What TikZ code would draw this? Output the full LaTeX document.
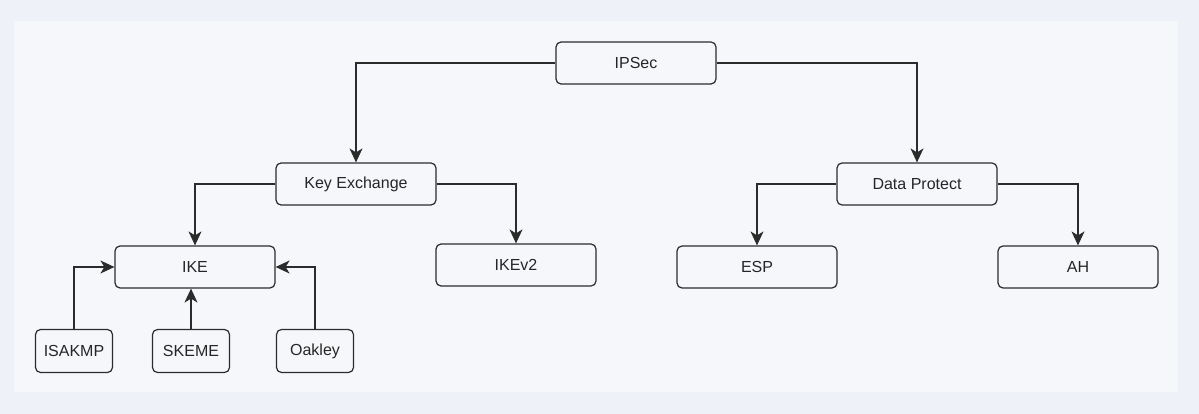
\documentclass[tikz,border=0pt]{standalone}
\usepackage{fontspec}
\setmainfont{Liberation Sans}
\usetikzlibrary{arrows.meta}
\definecolor{pageBg}{HTML}{EEF2F8}
\definecolor{panelBg}{HTML}{F6F7FB}
\definecolor{lineCol}{HTML}{2B2B2B}
\begin{document}
\begin{tikzpicture}[
        x=1pt, y=-1pt,
        font=\fontsize{16}{19}\selectfont,
        boxNode/.style={rectangle, rounded corners=5pt, draw=lineCol, line width=1.2pt,
            minimum width=160pt, minimum height=42pt, inner sep=0pt, text=black!85},
        smallNode/.style={boxNode, minimum width=77pt, minimum height=43pt},
        arrowLine/.style={draw=lineCol, line width=1.2pt,
            -{Stealth[length=14pt, width=13pt, inset=4pt]}}
    ]
        % Background
        \fill[pageBg] (0,0) rectangle (1199,414);
        \fill[panelBg] (14,21) rectangle (1178,392);
        \useasboundingbox (0,0) rectangle (1199,414);

        % Root node
        \node[boxNode] (ipsec) at (636,63) {IPSec};

        % Second level
        \node[boxNode] (keyex) at (356,184) {Key Exchange};
        \node[boxNode] (dataprot) at (917,184) {Data Protect};

        % Third level
        \node[boxNode] (ike) at (195,267) {IKE};
        \node[boxNode] (ikev2) at (516,265) {IKEv2};
        \node[boxNode] (esp) at (757,267) {ESP};
        \node[boxNode] (ah) at (1078,267) {AH};

        % IKE components
        \node[smallNode] (isakmp) at (74,351) {ISAKMP};
        \node[smallNode] (skeme) at (191,351) {SKEME};
        \node[smallNode] (oakley) at (315,351) {Oakley};

        % Edges
        \draw[arrowLine] (ipsec.west) -| (keyex.north);
        \draw[arrowLine] (ipsec.east) -| (dataprot.north);
        \draw[arrowLine] (keyex.west) -| (ike.north);
        \draw[arrowLine] (keyex.east) -| (ikev2.north);
        \draw[arrowLine] (dataprot.west) -| (esp.north);
        \draw[arrowLine] (dataprot.east) -| (ah.north);
        \draw[arrowLine] (isakmp.north) |- (ike.west);
        \draw[arrowLine] (skeme.north) -- (skeme.north |- ike.south);
        \draw[arrowLine] (oakley.north) |- (ike.east);
    \end{tikzpicture}
\end{document}
